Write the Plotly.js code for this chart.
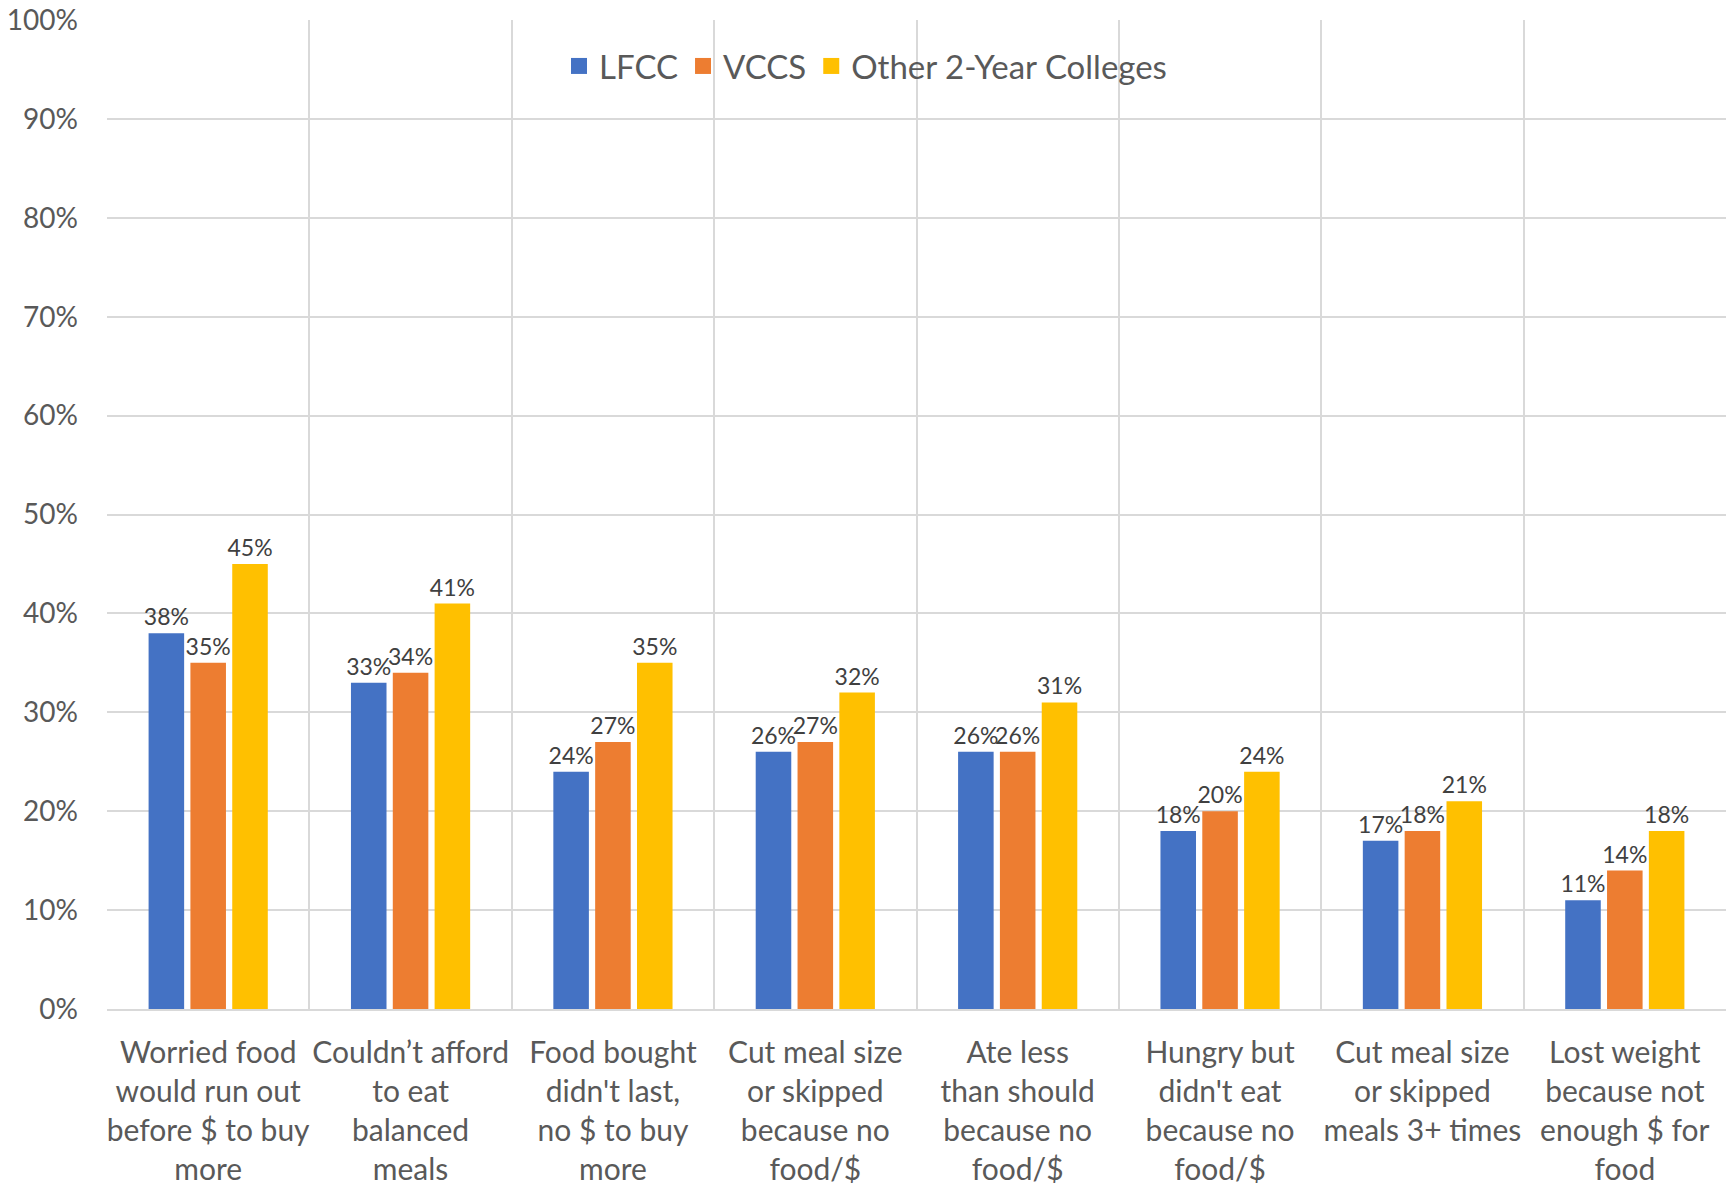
<!DOCTYPE html>
<html>
<head>
<meta charset="utf-8">
<script src="https://cdn.plot.ly/plotly-3.0.1.min.js"></script>
<style>html,body{margin:0;padding:0;background:#fff;}#chart{width:1731px;height:1183px;}</style>
</head>
<body>
<div id="chart"></div>
<script>
const categories = [
  "Worried food<br>would run out<br>before $ to buy<br>more",
  "Couldn’t afford<br>to eat<br>balanced<br>meals",
  "Food bought<br>didn't last,<br>no $ to buy<br>more",
  "Cut meal size<br>or skipped<br>because no<br>food/$",
  "Ate less<br>than should<br>because no<br>food/$",
  "Hungry but<br>didn't eat<br>because no<br>food/$",
  "Cut meal size<br>or skipped<br>meals 3+ times",
  "Lost weight<br>because not<br>enough $ for<br>food"
];
const seriesNames = ["LFCC", "VCCS", "Other 2-Year Colleges"];
const lfcc  = [0.38, 0.33, 0.24, 0.26, 0.26, 0.18, 0.17, 0.11];
const vccs  = [0.35, 0.34, 0.27, 0.27, 0.26, 0.20, 0.18, 0.14];
const other = [0.45, 0.41, 0.35, 0.32, 0.31, 0.24, 0.21, 0.18];
const colors = ["#4472C4", "#ED7D31", "#FFC000"];

const FONT = "Lato, 'Open Sans', sans-serif";
const seriesVals = [lfcc, vccs, other];
const traces = seriesVals.map((vals, i) => ({
  type: "bar",
  name: seriesNames[i],
  x: categories,
  y: vals,
  marker: {color: colors[i]},
  text: vals.map(v => Math.round(v * 100) + "%"),
  textposition: "outside",
  constraintext: "none",
  cliponaxis: false,
  textfont: {family: FONT, size: 23, color: "#404040"},
  showlegend: false,
  hoverinfo: "skip"
}));
// legend entries (square swatches)
seriesNames.forEach((n, i) => traces.push({
  type: "scatter",
  mode: "markers",
  name: n,
  x: [null],
  y: [null],
  marker: {symbol: "square", size: 20, color: colors[i]},
  showlegend: true,
  hoverinfo: "skip"
}));

const layout = {
  width: 1731,
  height: 1183,
  margin: {l: 107, r: 5, t: 20, b: 174, autoexpand: false},
  paper_bgcolor: "#ffffff",
  plot_bgcolor: "#ffffff",
  barmode: "group",
  bargap: 0.38,
  bargroupgap: 0.15,
  showlegend: true,
  legend: {
    orientation: "h",
    xref: "container", yref: "container",
    x: 0.5, xanchor: "center",
    y: 1 - 66 / 1183, yanchor: "middle",
    bgcolor: "rgba(0,0,0,0)",
    font: {family: FONT, size: 33, color: "#595959"},
    itemwidth: 30,
    tracegroupgap: 0
  },
  xaxis: {
    type: "category",
    tickson: "boundaries",
    tickangle: 0,
    showgrid: true,
    gridcolor: "#d9d9d9",
    gridwidth: 2,
    showline: true,
    linecolor: "#d9d9d9",
    linewidth: 2,
    ticks: "",
    ticklabelstandoff: 16,
    tickfont: {family: FONT, size: 30, color: "#595959"},
    automargin: false
  },
  yaxis: {
    range: [0, 1],
    dtick: 0.1,
    tickformat: ".0%",
    showgrid: true,
    gridcolor: "#d9d9d9",
    gridwidth: 2,
    zeroline: false,
    showline: false,
    ticks: "",
    ticklabelstandoff: 28,
    tickfont: {family: FONT, size: 28, color: "#595959"},
    automargin: false
  },
  font: {family: FONT, color: "#595959"}
};

Plotly.newPlot("chart", traces, layout, {displayModeBar: false, staticPlot: true});
</script>
</body>
</html>
